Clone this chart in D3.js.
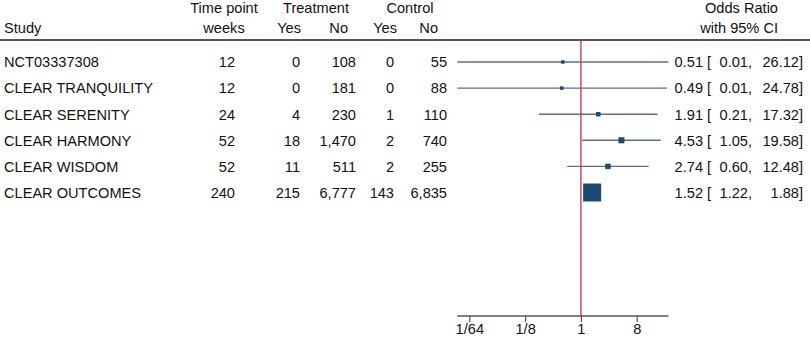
<!DOCTYPE html>
<html lang="en">
<head>
    <meta charset="UTF-8">
    <script src="https://d3js.org/d3.v7.min.js"></script>
    <title>Forest plot</title>
    <style>
        body { margin: 0; background: #fff; }
        text { font-family: "Liberation Sans", Arial, Helvetica, sans-serif; font-size: 14.6px; fill: #111; }
    </style>
</head>
<body>
    <div id="chart"></div>
    <script>
        // Data
        const studies = ["NCT03337308", "CLEAR TRANQUILITY", "CLEAR SERENITY", "CLEAR HARMONY", "CLEAR WISDOM", "CLEAR OUTCOMES"];
        const weeks = [12, 12, 24, 52, 52, 240];
        const trtYes = [0, 0, 4, 18, 11, 215];
        const trtNo = [108, 181, 230, 1470, 511, 6777];
        const ctlYes = [0, 0, 1, 2, 2, 143];
        const ctlNo = [55, 88, 110, 740, 255, 6835];
        const oddsRatio = [0.51, 0.49, 1.91, 4.53, 2.74, 1.52];
        const ciLow = [0.01, 0.01, 0.21, 1.05, 0.60, 1.22];
        const ciHigh = [26.12, 24.78, 17.32, 19.58, 12.48, 1.88];
        const weights = [2.8, 2.8, 4.6, 8.3, 6.9, 74.6];
        const tickValues = [1 / 64, 1 / 8, 1, 8];
        const tickLabels = ["1/64", "1/8", "1", "8"];

        const width = 810;
        const height = 338;
        const fmt = d3.format(",");
        const f2 = d3.format(".2f");

        const svg = d3.select("#chart")
            .append("svg")
            .attr("width", width)
            .attr("height", height);

        // Scales
        const x = d3.scaleLog().base(2)
            .domain([1 / 64, 8])
            .range([469.3, 636.7]);

        const y = d3.scalePoint()
            .domain(studies)
            .range([62, 192.5]);

        const size = d3.scaleSqrt()
            .domain([0, d3.max(weights)])
            .range([0, 18]);

        const rows = studies.map((s, i) => ({
            study: s, weeks: weeks[i], trtYes: trtYes[i], trtNo: trtNo[i],
            ctlYes: ctlYes[i], ctlNo: ctlNo[i], or: oddsRatio[i],
            lo: ciLow[i], hi: ciHigh[i], w: weights[i]
        }));

        // Header
        const header = svg.append("g");
        header.append("text").attr("x", 224).attr("y", 13).attr("text-anchor", "middle").text("Time point");
        header.append("text").attr("x", 316).attr("y", 13).attr("text-anchor", "middle").text("Treatment");
        header.append("text").attr("x", 410).attr("y", 13).attr("text-anchor", "middle").text("Control");
        header.append("text").attr("x", 778).attr("y", 13).attr("text-anchor", "end").text("Odds Ratio");
        header.append("text").attr("x", 4).attr("y", 33.3).text("Study");
        header.append("text").attr("x", 224).attr("y", 33.3).attr("text-anchor", "middle").text("weeks");
        header.append("text").attr("x", 301).attr("y", 33.3).attr("text-anchor", "end").text("Yes");
        header.append("text").attr("x", 348).attr("y", 33.3).attr("text-anchor", "end").text("No");
        header.append("text").attr("x", 397).attr("y", 33.3).attr("text-anchor", "end").text("Yes");
        header.append("text").attr("x", 438).attr("y", 33.3).attr("text-anchor", "end").text("No");
        header.append("text").attr("x", 778).attr("y", 33.3).attr("text-anchor", "end").text("with 95% CI");

        svg.append("line")
            .attr("x1", 0).attr("x2", width)
            .attr("y1", 40).attr("y2", 40)
            .attr("stroke", "#555").attr("stroke-width", 2);

        // Table columns
        const cols = [
            { key: "study", x: 4, anchor: "start", f: d => d },
            { key: "weeks", x: 235, anchor: "end", f: d => d },
            { key: "trtYes", x: 300, anchor: "end", f: fmt },
            { key: "trtNo", x: 356, anchor: "end", f: fmt },
            { key: "ctlYes", x: 394, anchor: "end", f: fmt },
            { key: "ctlNo", x: 447, anchor: "end", f: fmt }
        ];

        cols.forEach(c => {
            svg.append("g").selectAll("text")
                .data(rows)
                .join("text")
                .attr("x", c.x)
                .attr("y", d => y(d.study) + 5.3)
                .attr("text-anchor", c.anchor)
                .text(d => c.f(d[c.key]));
        });

        // Reference line at OR = 1
        svg.append("line")
            .attr("x1", x(1)).attr("x2", x(1))
            .attr("y1", 41).attr("y2", 316)
            .attr("stroke", "#c8466a").attr("stroke-width", 1.5);

        // CI lines
        svg.append("g").selectAll("line")
            .data(rows)
            .join("line")
            .attr("x1", d => x(d.lo))
            .attr("x2", d => x(d.hi))
            .attr("y1", d => y(d.study))
            .attr("y2", d => y(d.study))
            .attr("stroke", "#5a6f84")
            .attr("stroke-width", 1.4);

        // Markers
        svg.append("g").selectAll("rect")
            .data(rows)
            .join("rect")
            .attr("x", d => x(d.or) - size(d.w) / 2)
            .attr("y", d => y(d.study) - size(d.w) / 2)
            .attr("width", d => size(d.w))
            .attr("height", d => size(d.w))
            .attr("fill", "#1b4a72");

        // Effect size text
        const ci = svg.append("g");
        ci.selectAll(".est").data(rows).join("text")
            .attr("x", 703).attr("y", d => y(d.study) + 5.3)
            .attr("text-anchor", "end")
            .text(d => f2(d.or));
        ci.selectAll(".br").data(rows).join("text")
            .attr("x", 707).attr("y", d => y(d.study) + 5.3)
            .text("[");
        ci.selectAll(".lo").data(rows).join("text")
            .attr("x", 752).attr("y", d => y(d.study) + 5.3)
            .attr("text-anchor", "end")
            .text(d => f2(d.lo) + ",");
        ci.selectAll(".hi").data(rows).join("text")
            .attr("x", 803).attr("y", d => y(d.study) + 5.3)
            .attr("text-anchor", "end")
            .text(d => f2(d.hi) + "]");

        // Axis
        const axis = d3.axisBottom(x)
            .tickValues(tickValues)
            .tickFormat((d, i) => tickLabels[i])
            .tickSize(6)
            .tickPadding(2)
            .tickSizeOuter(0);

        const ax = svg.append("g")
            .attr("transform", "translate(0,316)")
            .call(axis);

        ax.select(".domain")
            .attr("d", `M${x(d3.min(ciLow))},0H${x(d3.max(ciHigh))}`)
            .attr("stroke", "#555").attr("stroke-width", 1.3);
        ax.selectAll(".tick line").attr("stroke", "#555").attr("stroke-width", 1.2);
        ax.selectAll(".tick text")
            .style("font-family", '"Liberation Sans", Arial, sans-serif')
            .style("font-size", "14.6px")
            .attr("fill", "#111");
    </script>
</body>
</html>
